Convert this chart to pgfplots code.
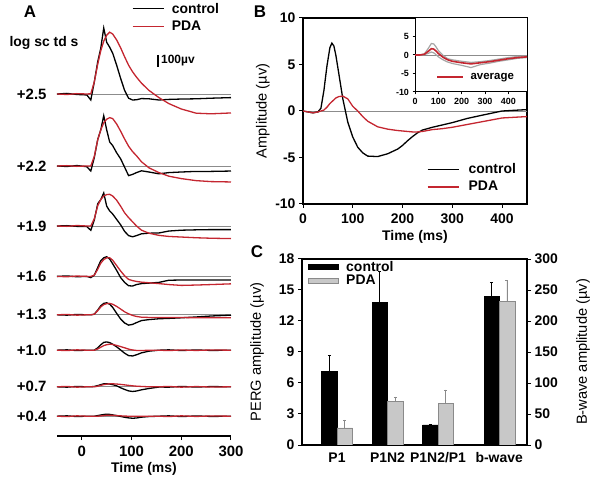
\documentclass[border=0pt]{standalone}
\usepackage{fontspec}
\setmainfont{Liberation Sans}
\usepackage{pgfplots}
\pgfplotsset{compat=1.18}
\usepackage{pgfplotstable}

\definecolor{pdared}{HTML}{C42630}
\definecolor{basegray}{HTML}{8C8C8C}
\definecolor{bargray}{HTML}{C8C8C8}
\definecolor{baredge}{HTML}{8A8A8A}
\definecolor{sdgray}{HTML}{A6A6A6}

\newcommand{\fA}{\fontsize{15}{17}\selectfont\bfseries}
\newcommand{\fT}{\fontsize{14}{16}\selectfont\bfseries}
\newcommand{\fL}{\fontsize{14.7}{17}\selectfont}
\newcommand{\fS}{\fontsize{9}{10}\selectfont\bfseries}

% panel A: flash ERG traces (uV, relative to baseline)
\pgfplotstableread{
t c p
-50 0 0
-30 5 -4
-10 -4 3
10 -8 0
18 -50 2
25 100 100
32 270 250
38 380 360
44 550 440
50 430 490
56 390 515
62 340 500
70 240 450
78 130 385
86 30 310
94 -35 240
102 -50 185
110 -48 140
120 -38 90
135 -40 30
155 -50 -30
175 -45 -80
200 -42 -125
230 -40 -160
260 -35 -165
300 -30 -158
}\tabA
\pgfplotstableread{
t c p
-50 0 0
-30 -4 3
-10 4 -3
10 -6 0
18 -42 0
25 70 80
32 222 220
38 300 300
44 419 360
50 300 390
56 200 403
62 170 395
70 110 350
78 60 290
86 -10 225
94 -80 165
102 -70 120
110 -55 85
120 -40 35
135 -50 -15
155 -65 -55
175 -55 -85
200 -50 -105
230 -45 -122
260 -45 -130
300 -42 -133
}\tabB
\pgfplotstableread{
t c p
-50 0 0
-30 3 -3
-10 -3 4
10 -5 0
18 -36 0
25 50 60
32 186 170
38 220 220
44 275 250
50 165 262
56 125 264
62 100 250
70 55 215
78 10 165
86 -45 110
94 -80 70
102 -90 35
110 -80 0
120 -65 -35
135 -60 -60
155 -58 -78
175 -42 -87
200 -35 -92
230 -32 -98
260 -30 -102
300 -30 -105
}\tabC
\pgfplotstableread{
t c p
-50 0 0
-30 4 -3
-10 -3 3
10 0 0
18 -10 0
25 10 10
32 75 60
38 131 110
44 155 140
50 164 155
56 145 155
62 105 135
70 50 90
78 -10 45
86 -50 5
94 -78 -25
102 -80 -35
110 -68 -42
120 -60 -48
135 -56 -53
155 -50 -60
175 -32 -68
200 -30 -75
230 -30 -72
260 -30 -68
300 -30 -62
}\tabD
\pgfplotstableread{
t c p
-50 0 0
-30 -3 3
-10 3 -3
10 0 0
18 0 0
25 5 5
32 40 35
38 75 65
44 95 85
50 100 93
56 88 95
62 62 88
70 12 70
78 -35 48
86 -68 25
94 -86 8
102 -80 -5
110 -65 -14
120 -48 -20
135 -40 -22
155 -33 -22
175 -30 -23
200 -25 -23
230 -18 -24
260 -10 -25
300 -3 -25
}\tabE
\pgfplotstableread{
t c p
-50 0 0
-30 3 -3
-10 -3 3
10 0 0
18 0 0
25 0 0
32 20 10
38 45 25
44 65 38
50 69 46
56 63 50
62 50 48
70 28 40
78 2 30
86 -25 20
94 -45 9
102 -48 2
110 -38 -2
120 -22 -3
135 -8 0
155 0 0
175 3 -3
200 -3 2
230 2 -2
260 -2 2
300 0 0
}\tabF
\pgfplotstableread{
t c p
-50 0 0
-30 -3 3
-10 3 -3
10 0 0
18 0 0
25 3 0
32 10 5
38 18 12
44 25 18
50 25 22
56 23 25
62 18 25
70 8 23
78 -8 20
86 -22 16
94 -34 12
102 -39 8
110 -35 5
120 -25 3
135 -14 0
155 -2 0
175 -3 3
200 3 -3
230 -2 2
260 2 -2
300 0 0
}\tabG
\pgfplotstableread{
t c p
-50 0 0
-30 3 -3
-10 -3 3
10 0 0
18 0 0
25 0 0
32 5 0
38 10 2
44 14 5
50 17 8
56 15 8
62 11 7
70 5 5
78 -2 3
86 -9 1
94 -14 0
102 -17 0
110 -15 0
120 -8 0
135 -3 0
155 0 0
175 3 -3
200 -3 3
230 2 -2
260 -2 2
300 0 0
}\tabH

% panel B: averaged PERG (uV)
\pgfplotstableread{
t c p
0 0 0
10 -0.1 -0.1
20 -0.2 -0.2
30 -0.1 -0.1
36 0.3 0
42 2.2 0.1
48 4.8 0.4
54 6.8 0.8
58 7.3 1.0
62 7.0 1.2
66 6.0 1.4
72 4.0 1.55
80 1.3 1.6
90 -1.2 1.3
100 -2.8 0.5
110 -3.9 0
120 -4.5 -0.6
130 -4.85 -1.1
150 -4.9 -1.7
170 -4.6 -1.95
190 -4.1 -2.1
200 -3.7 -2.15
210 -3.2 -2.2
220 -2.75 -2.25
230 -2.35 -2.25
240 -2.05 -2.2
260 -1.75 -2.0
280 -1.5 -1.9
300 -1.25 -1.75
330 -0.8 -1.45
360 -0.45 -1.15
400 0 -0.75
450 0.15 -0.6
}\tabPERG

% inset: PDA average and +/- SEM
\pgfplotstableread{
t r hi lo
0 0 0 0
20 0 0 0
40 0.2 0.3 0.1
55 0.9 1.6 0.4
70 1.7 3.1 0.8
80 1.6 3.0 0.6
90 1.1 2.2 0.1
100 0.4 1.2 -0.5
120 -0.6 -0.1 -1.3
140 -1.3 -1.0 -1.9
160 -1.7 -1.3 -2.3
200 -2.1 -1.7 -2.8
240 -2.4 -2.0 -3.4
280 -2.1 -1.8 -2.6
320 -1.8 -1.5 -2.2
360 -1.4 -1.1 -1.7
400 -1.0 -0.7 -1.3
440 -0.7 -0.4 -0.9
480 -0.5 -0.3 -0.7
}\tabInset

\pgfplotsset{
  panel/.style={scale only axis, tick align=outside,
    axis line style={line width=1.2bp},
    major tick style={line width=1bp, black}, major tick length=4bp,
    /pgf/number format/assume math mode=true,
    ticklabel style={font=\fT}, xlabel style={font=\fT}, ylabel style={font=\fL}},
  ctrl/.style={black, line width=1.3bp},
  pda/.style={pdared, line width=1.3bp},
  basel/.style={basegray, line width=0.8bp, forget plot},
  linelegend/.style={legend image code/.code={\draw[##1] (0bp,0bp) -- (31bp,0bp);}},
  gaplegend/.style={legend style={/tikz/every odd column/.append style={column sep=#1}}},
}

\newcommand{\trace}[3]{%
  \addplot[basel] coordinates {(-50,#2) (300,#2)};
  \addplot[ctrl] table[x=t, y expr=\thisrow{c}+#2] {#1};
  \addplot[pda] table[x=t, y expr=\thisrow{p}+#2] {#1};
  \node[anchor=east, font=\fA] at (axis cs:-50,#2) [xshift=-7bp] {#3};}

\begin{document}
\begin{tikzpicture}
\path[use as bounding box] (0bp,0bp) rectangle (600bp,490bp);

% ---------- A ----------
\begin{axis}[panel, at={(57bp,54bp)}, anchor=south west, width=174bp, height=416bp,
  xmin=-50, xmax=300, ymin=0, ymax=3466.7,
  axis x line*=bottom, axis y line=none, clip=false,
  xtick={0,100,200,300}, ticklabel style={font=\fA},
  xticklabel style={yshift=-3bp},
  xlabel={Time (ms)}, xlabel style={yshift=2bp},
  linelegend, gaplegend=6bp, legend entries={control, PDA}, legend cell align=left,
  legend style={at={(axis description cs:0.43,1.045)}, anchor=north west,
    draw=none, fill=none, font=\fT, inner sep=0pt,
    nodes={inner sep=1.5bp}, row sep=3.5bp}]
\trace{\tabA}{2850}{+2.5}
\trace{\tabB}{2250}{+2.2}
\trace{\tabC}{1750}{+1.9}
\trace{\tabD}{1330}{+1.6}
\trace{\tabE}{1010}{+1.3}
\trace{\tabF}{715}{+1.0}
\trace{\tabG}{410}{+0.7}
\trace{\tabH}{165}{+0.4}
\end{axis}
\node[font=\fontsize{17}{19}\selectfont\bfseries] at (30bp,478bp) {A};
\node[font=\fT, anchor=west] at (6bp,447bp) {log sc td s};
\draw[line width=1.5bp] (158bp,435bp) -- (158bp,423bp);
\node[font=\fontsize{12}{14}\selectfont\bfseries, anchor=west, inner sep=1bp] at (160bp,429bp) {100µv};

% ---------- B ----------
\begin{axis}[panel, at={(303bp,286bp)}, anchor=south west, width=224bp, height=186bp,
  xmin=0, xmax=450, ymin=-10, ymax=10,
  xtick={0,100,...,400}, ytick={-10,-5,...,10}, xtick pos=bottom, ytick pos=left,
  xticklabel style={yshift=-2bp},
  xlabel={Time (ms)}, ylabel={Amplitude (µv)},
  ylabel style={at={(axis description cs:-0.179,0.5)}, anchor=center},
  linelegend, gaplegend=8bp, legend entries={control, PDA}, legend cell align=left,
  legend style={at={(axis description cs:0.552,0.053)}, anchor=south west,
    draw=none, fill=none, font=\fT, inner sep=0pt, nodes={inner sep=1.5bp},
    row sep=3bp}]
\addplot[basel] coordinates {(0,0) (450,0)};
\addplot[ctrl] table[x=t, y=c] {\tabPERG};
\addplot[pda] table[x=t, y=p] {\tabPERG};
\end{axis}

\begin{axis}[panel, at={(415bp,398bp)}, anchor=south west, width=112bp, height=74bp,
  xmin=0, xmax=480, ymin=-10, ymax=10,
  xtick={0,100,...,400}, ytick={-10,-5,0,5}, xtick pos=bottom, ytick pos=left,
  ticklabel style={font=\fS}, major tick length=2.5bp,
  axis line style={line width=1bp},
  axis background/.style={fill=white},
  legend image code/.code={\draw[#1] (0bp,0bp) -- (26bp,0bp);},
  gaplegend=5bp, legend cell align=left,
  legend style={at={(axis description cs:0.19,0.2)}, anchor=west,
    draw=none, fill=none, font=\fontsize{11.5}{13}\selectfont\bfseries,
    inner sep=0pt, nodes={inner sep=1.5bp}}]
\addplot[basel] coordinates {(0,0) (480,0)};
\addplot[sdgray, line width=1.2bp, forget plot] table[x=t, y=hi] {\tabInset};
\addplot[sdgray, line width=1.2bp, forget plot] table[x=t, y=lo] {\tabInset};
\addplot[pdared, line width=1.6bp] table[x=t, y=r] {\tabInset};
\addlegendentry{average}
\end{axis}
\node[font=\fontsize{17}{19}\selectfont\bfseries] at (260bp,478bp) {B};

% ---------- C ----------
\begin{axis}[panel, at={(302bp,45bp)}, anchor=south west, width=225bp, height=186bp,
  ybar=0pt, bar width=15.5bp,
  xmin=0.307, xmax=4.76, ymin=0, ymax=18,
  ytick={0,3,...,18}, ytick pos=left,
  xtick={1,2,3,4.21}, xticklabels={P1,P1N2,P1N2/P1,b-wave},
  major x tick style={draw=none},
  ylabel={PERG amplitude (µv)},
  ylabel style={at={(axis description cs:-0.2,0.5)}, anchor=center},
  legend image code/.code={\filldraw[#1] (0bp,-2.5bp) rectangle (30bp,2.5bp);},
  gaplegend=7bp, legend entries={control, PDA}, legend cell align=left,
  legend style={at={(axis description cs:0.025,0.995)}, anchor=north west,
    draw=none, fill=none, font=\fT, inner sep=0pt, nodes={inner sep=1bp}}]
\addplot[fill=black, draw=black,
  error bars/.cd, y dir=plus, y explicit,
  error bar style={black, line width=0.8bp},
  error mark options={rotate=90, black, mark size=1.5bp}]
  coordinates {(1,7.1) +- (0,1.56) (2,13.8) +- (0,3.0) (3,1.95) +- (0,0.05)};
\addplot[fill=bargray, draw=baredge,
  error bars/.cd, y dir=plus, y explicit,
  error bar style={baredge, line width=0.8bp},
  error mark options={rotate=90, baredge, mark size=1.5bp}]
  coordinates {(1,1.65) +- (0,0.78) (2,4.2) +- (0,0.47) (3,4.0) +- (0,1.35)};
\end{axis}

\begin{axis}[panel, at={(302bp,45bp)}, anchor=south west, width=225bp, height=186bp,
  ybar=0pt, bar width=15.5bp,
  xmin=0.307, xmax=4.76, ymin=0, ymax=300,
  ytick={0,50,...,300},
  axis y line*=right, axis x line=none,
  ylabel={B-wave amplitude (µv)},
  ylabel style={at={(axis description cs:1.249,0.5)}, anchor=center}]
\addplot[fill=black, draw=black,
  error bars/.cd, y dir=plus, y explicit,
  error bar style={black, line width=0.8bp},
  error mark options={rotate=90, black, mark size=1.5bp}]
  coordinates {(4.21,240) +- (0,22)};
\addplot[fill=bargray, draw=baredge,
  error bars/.cd, y dir=plus, y explicit,
  error bar style={baredge, line width=0.8bp},
  error mark options={rotate=90, baredge, mark size=1.5bp}]
  coordinates {(4.21,232) +- (0,34)};
\end{axis}
\node[font=\fontsize{17}{19}\selectfont\bfseries] at (257bp,238bp) {C};
\end{tikzpicture}
\end{document}
